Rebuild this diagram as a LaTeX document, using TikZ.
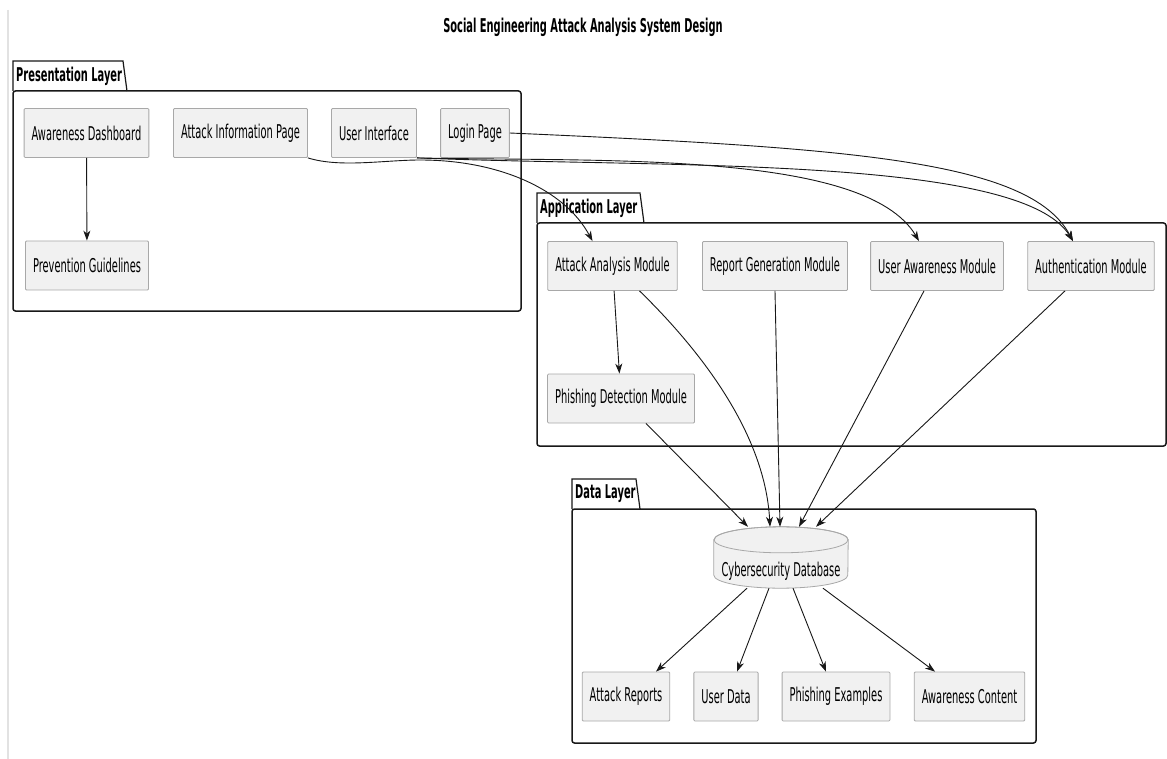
\documentclass[tikz,border=0pt]{standalone}
\usepackage{fontspec}
\setmainfont{DejaVu Sans}[FakeStretch=0.52]
\usepackage{tikz}
\usetikzlibrary{arrows.meta}
\definecolor{boxfill}{RGB}{241,241,241}
\definecolor{boxline}{RGB}{168,168,168}
\definecolor{pkgline}{RGB}{24,24,24}
\definecolor{edgeline}{RGB}{24,24,24}
\definecolor{pagerule}{RGB}{226,226,226}
\newcommand{\diafont}{\fontsize{19}{22}\selectfont}

\tikzset{
  comp/.style={draw=boxline, fill=boxfill, line width=0.8pt, minimum height=49pt,
    inner xsep=7.5pt, inner ysep=0pt, rounded corners=1pt},
  dbbody/.style={minimum width=134pt, minimum height=61pt, inner sep=0pt},
  pkg/.style={draw=pkgline, line width=1.5pt},
  pkgname/.style={font=\diafont\bfseries, anchor=west, inner sep=0pt},
  flow/.style={->, draw=edgeline, line width=0.9pt},
}

\begin{document}
\begin{tikzpicture}[x=1pt, y=-1pt, font=\diafont,
    >={Stealth[length=10pt, width=7pt, inset=3pt]}]
  \useasboundingbox (0,0) rectangle (1167,759);
  \fill[white] (0,0) rectangle (1167,759);
  \draw[pagerule, line width=1.5pt] (8,10) -- (8,759);
  \node[font=\diafont\bfseries] (diagtitle) at (583,27) {Social Engineering Attack Analysis System Design};

  % packages
  \draw[pkg, rounded corners=2.5pt] (13,91) rectangle (521,311);
  \draw[pkg, line width=1.2pt] (13,91) -- (13,61) -- (123,61) -- (127,91);
  \node[pkgname] (presname) at (16,76) {Presentation Layer};
  \draw[pkg, rounded corners=2.5pt] (537,223) rectangle (1166,446);
  \draw[pkg, line width=1.2pt] (537,223) -- (537,193) -- (640,193) -- (644,223);
  \node[pkgname] (appname) at (540,208) {Application Layer};
  \draw[pkg, rounded corners=2.5pt] (572,509) rectangle (1036,743);
  \draw[pkg, line width=1.2pt] (572,509) -- (572,479) -- (636,479) -- (640,509);
  \node[pkgname] (dataname) at (575,494) {Data Layer};

  % presentation layer
  \node[comp] (awdash) at (86.5,133) {Awareness Dashboard};
  \node[comp] (attinfo) at (240.5,133) {Attack Information Page};
  \node[comp] (uiface) at (374,133) {User Interface};
  \node[comp] (loginpg) at (475,133) {Login Page};
  \node[comp] (prevguide) at (87,265.5) {Prevention Guidelines};

  % application layer
  \node[comp] (attmod) at (612.5,266) {Attack Analysis Module};
  \node[comp] (repmod) at (775,266) {Report Generation Module};
  \node[comp] (uawmod) at (937,266) {User Awareness Module};
  \node[comp] (authmod) at (1091,266) {Authentication Module};
  \node[comp] (phishmod) at (621,398.5) {Phishing Detection Module};

  % data layer
  \node[dbbody] (cyberdb) at (781,557.5) {};
  \path[fill=boxfill, draw=boxline, line width=0.8pt]
    ([yshift=-13pt]cyberdb.north west) -- ([yshift=13pt]cyberdb.south west)
    arc[start angle=180, end angle=360, x radius=67pt, y radius=13pt]
    -- ([yshift=-13pt]cyberdb.north east)
    arc[start angle=0, end angle=180, x radius=67pt, y radius=13pt] -- cycle;
  \draw[boxline, line width=0.8pt] ([yshift=-13pt]cyberdb.north) ellipse [x radius=67pt, y radius=13pt];
  \node (dblabel) at ([yshift=-13.5pt]cyberdb.center) {Cybersecurity Database};
  \node[comp] (attrep) at (626,696.5) {Attack Reports};
  \node[comp] (udata) at (726,696.5) {User Data};
  \node[comp] (phishex) at (836,696.5) {Phishing Examples};
  \node[comp] (awcontent) at (969.5,696.5) {Awareness Content};

  % connectors
  \draw[flow] (awdash) -- (prevguide);
  \draw[flow] (attmod) -- (phishmod);
  \draw[flow] (attinfo.south east) .. controls (340,168) and (385,160) .. (420,160)
    .. controls (500,160) and (565,190) .. ([xshift=-20pt]attmod.north);
  \draw[flow] (uiface.south east) .. controls (600,162) and (865,150) .. ([xshift=-18pt]uawmod.north);
  \draw[flow] (uiface.south east) .. controls (660,168) and (1020,155) .. ([xshift=-18pt]authmod.north);
  \draw[flow] (loginpg.east) .. controls (850,148) and (1030,160) .. ([xshift=-18pt]authmod.north);

  \draw[flow] ([xshift=25pt]phishmod.south) -- ([xshift=-33pt]cyberdb.north);
  \draw[flow] ([xshift=27pt]attmod.south) .. controls (695,345) and (765,430) .. ([xshift=-11pt]cyberdb.north);
  \draw[flow] (repmod.south) -- ([xshift=-1pt]cyberdb.north);
  \draw[flow] ([xshift=-13pt]uawmod.south) -- ([xshift=18pt]cyberdb.north);
  \draw[flow] ([xshift=-26pt]authmod.south) -- ([xshift=35pt]cyberdb.north);

  \draw[flow] ([xshift=-34pt]cyberdb.south) -- ([xshift=30pt]attrep.north);
  \draw[flow] ([xshift=-12pt]cyberdb.south) -- ([xshift=11pt]udata.north);
  \draw[flow] ([xshift=12pt]cyberdb.south) -- ([xshift=-10pt]phishex.north);
  \draw[flow] ([xshift=42pt]cyberdb.south) -- ([xshift=-34.5pt]awcontent.north);
\end{tikzpicture}
\end{document}
